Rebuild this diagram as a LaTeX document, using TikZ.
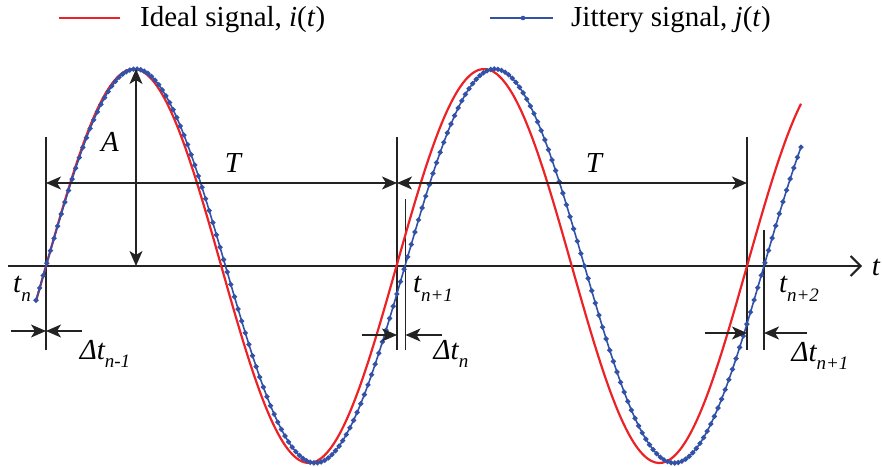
\documentclass[tikz,border=0pt]{standalone}
\usepackage{fontspec}
\setmainfont{Liberation Serif}
\usepackage{xcolor}
\usetikzlibrary{arrows.meta,positioning,calc}
\definecolor{sigred}{RGB}{236,34,39}
\definecolor{sigblue}{RGB}{50,82,168}
\definecolor{axisgray}{RGB}{35,35,35}
\newcommand{\sbx}[1]{\raisebox{-0.3em}{\fontsize{19}{20}\selectfont #1}}

\begin{document}
\begin{tikzpicture}[
  x=1pt, y=1pt,
  font=\fontsize{29}{34}\selectfont,
  lbl/.style={inner sep=0pt, font=\fontsize{29}{34}\selectfont\itshape},
  dim/.style={axisgray, line width=1.4pt, {Stealth[length=15pt,width=13pt,inset=4pt]}-{Stealth[length=15pt,width=13pt,inset=4pt]}},
  dimone/.style={axisgray, line width=1.4pt, -{Stealth[length=15pt,width=13pt,inset=4pt]}},
  tickline/.style={axisgray, line width=1.3pt},
  ideal/.style={sigred, line width=2.2pt},
  jitter/.style={sigblue, line width=1.6pt, mark=*, mark size=1.7pt, mark options={fill=sigblue, draw=none}}
]
\useasboundingbox (0,-200) rectangle (882,266);
\coordinate (tn) at (46,0);
\coordinate (tn1) at (397,0);
\coordinate (tn1j) at (405.5,0);
\coordinate (tn2) at (747,0);
\coordinate (tn2j) at (764,0);
\coordinate (apk) at (136,0);
\draw[axisgray, line width=2pt, -{Straight Barb[length=10pt,width=20pt,line width=2pt]}] (8,0) -- (862,0);
\draw[tickline] ([yshift=129pt]tn) -- ([yshift=-84pt]tn);
\draw[tickline] ([yshift=129pt]tn1) -- ([yshift=-84pt]tn1);
\draw[tickline] ([yshift=67pt]tn1j) -- ([yshift=-84pt]tn1j);
\draw[tickline] ([yshift=129pt]tn2) -- ([yshift=-84pt]tn2);
\draw[tickline] ([yshift=36pt]tn2j) -- ([yshift=-84pt]tn2j);
\draw[ideal] plot[domain=36:801, samples=200, smooth] (\x, {197*sin(1.027104*(\x-46))});
\draw[jitter] plot[domain=36:801, samples=213] (\x, {197*sin(1.002786*(\x-46))});
\draw[dim] (apk) -- ([yshift=197pt]apk);
\draw[dim] ([yshift=83pt]tn) -- ([yshift=83pt]tn1);
\draw[dim] ([yshift=83pt]tn1) -- ([yshift=83pt]tn2);
\draw[dimone] ([shift={(-35pt,-65pt)}]tn) -- ([yshift=-65pt]tn);
\draw[dimone] ([shift={(36pt,-65pt)}]tn) -- ([yshift=-65pt]tn);
\draw[dimone] ([shift={(-35pt,-69pt)}]tn1) -- ([yshift=-69pt]tn1);
\draw[dimone] ([shift={(36pt,-69pt)}]tn1j) -- ([yshift=-69pt]tn1j);
\draw[dimone] ([shift={(-42pt,-67pt)}]tn2) -- ([yshift=-67pt]tn2);
\draw[dimone] ([shift={(43pt,-67pt)}]tn2j) -- ([yshift=-67pt]tn2j);
\node[lbl] (amp) at (110,124) {A};
\node[lbl] (per1) at (233,103) {T};
\node[lbl] (per2) at (594,103) {T};
\node[lbl] (taxis) at (876,-1) {t};
\node[lbl] (ltn) at (22,-23) {t\sbx{n}};
\node[lbl] (ltn1) at (433,-23) {t\sbx{n+1}};
\node[lbl] (ltn2) at (799,-23) {t\sbx{n+2}};
\node[lbl] (ldt0) at (105,-88) {Δt\sbx{n-1}};
\node[lbl] (ldt1) at (451,-88) {Δt\sbx{n}};
\node[lbl] (ldt2) at (820,-90) {Δt\sbx{n+1}};
\coordinate (ileg) at (59,248);
\coordinate (jleg) at (490,248);
\draw[ideal] (ileg) -- ++(61,0);
\draw[sigblue, line width=1.8pt] (jleg) -- ++(63,0);
\fill[sigblue] ([xshift=33pt]jleg) circle (2.3pt);
\node[inner sep=0pt, anchor=base west] (ilab) at (140,239) {Ideal signal, \textit{i}(\textit{t})};
\node[inner sep=0pt, anchor=base west] (jlab) at (571,239) {Jittery signal, \textit{j}(\textit{t})};
\end{tikzpicture}
\end{document}
